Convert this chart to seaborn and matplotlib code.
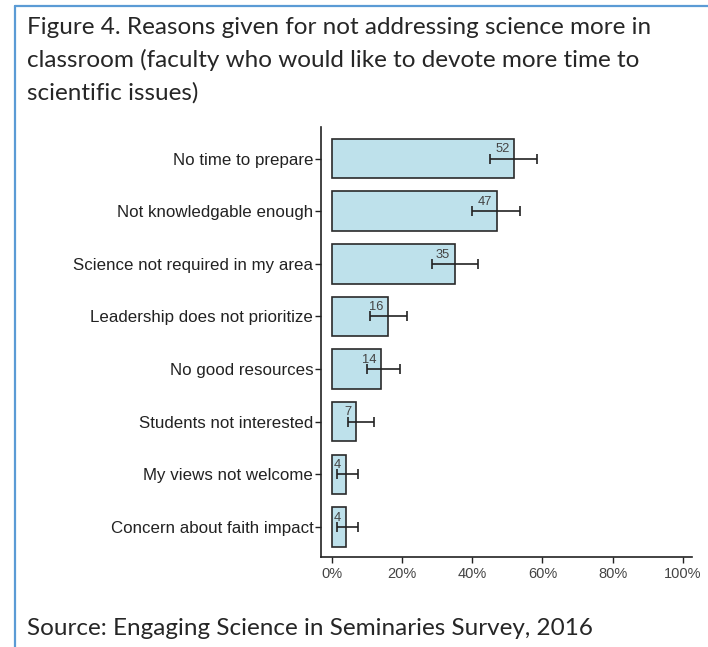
import matplotlib
matplotlib.use("Agg")
import matplotlib.pyplot as plt
import matplotlib.lines as mlines
import seaborn as sns
import pandas as pd
import numpy as np

# Survey results (percent of faculty) with confidence interval bounds
reasons = [
    "No time to prepare",
    "Not knowledgable enough",
    "Science not required in my area",
    "Leadership does not prioritize",
    "No good resources",
    "Students not interested",
    "My views not welcome",
    "Concern about faith impact",
]
percent = [52, 47, 35, 16, 14, 7, 4, 4]
ci_low = [45, 40, 28.5, 11, 10, 4.5, 1.5, 1.5]
ci_high = [58.5, 53.5, 41.5, 21.5, 19.5, 12, 7.5, 7.5]
x_ticks = [0, 20, 40, 60, 80, 100]
x_tick_labels = ["0%", "20%", "40%", "60%", "80%", "100%"]

title_lines = [
    "Figure 4. Reasons given for not addressing science more in",
    "classroom (faculty who would like to devote more time to",
    "scientific issues)",
]
source_text = "Source: Engaging Science in Seminaries Survey, 2016"

df = pd.DataFrame({"reason": reasons, "percent": percent,
                   "lo": ci_low, "hi": ci_high})

sns.set_theme(style="ticks")
plt.rcParams["font.family"] = ["Liberation Sans", "DejaVu Sans"]

W, H = 708, 647
fig = plt.figure(figsize=(W / 100, H / 100), dpi=100)
fig.patch.set_facecolor("white")

ax = fig.add_axes([321 / W, 1 - 557 / H, (692 - 321) / W, (557 - 127) / H])

sns.barplot(data=df, x="percent", y="reason", orient="h", ax=ax,
            color="#BEE1EB", edgecolor="#2a2a2a", linewidth=1.2,
            width=0.75, saturation=1, errorbar=None)

ypos = np.arange(len(reasons))
xerr = np.array([df["percent"] - df["lo"], df["hi"] - df["percent"]])
ax.errorbar(df["percent"], ypos, xerr=xerr, fmt="none", ecolor="#222222",
            elinewidth=1.2, capsize=3.3, capthick=1.2)

for y, v in zip(ypos, percent):
    ax.text(v - 1.3, y - 0.12, f"{v}", ha="right", va="baseline",
            fontsize=9.3, color="#444444")

ax.set_xlim(-3.1, 102.6)
ax.set_ylim(len(reasons) - 0.43, -0.6)
ax.set_xticks(x_ticks)
ax.set_xticklabels(x_tick_labels)
ax.set_xlabel("")
ax.set_ylabel("")
ax.tick_params(axis="both", which="both", direction="out", length=4,
               width=1.0, color="#222222", labelcolor="#222222",
               labelsize=12.2, pad=1.5)
ax.tick_params(axis="x", labelsize=10.5, labelcolor="#444444", pad=3)
for side in ("top", "right"):
    ax.spines[side].set_visible(False)
for side in ("left", "bottom"):
    ax.spines[side].set_linewidth(1.2)
    ax.spines[side].set_color("#222222")
ax.set_facecolor("white")

# Text-box frame on the left and top
fig.add_artist(mlines.Line2D([15 / W, 15 / W], [0, 1 - 6 / H],
                             transform=fig.transFigure, color="#5B9BD5", lw=1.6))
fig.add_artist(mlines.Line2D([15 / W, 1], [1 - 6 / H, 1 - 6 / H],
                             transform=fig.transFigure, color="#5B9BD5", lw=1.6))

for i, line in enumerate(title_lines):
    fig.text(27 / W, 1 - (34 + 33 * i) / H, line, ha="left", va="baseline",
             fontsize=17.5, color="#262626", family=["Lato", "DejaVu Sans"])

fig.text(27 / W, 1 - 635 / H, source_text, ha="left", va="baseline",
         fontsize=17.5, color="#262626", family=["Lato", "DejaVu Sans"])

fig.savefig("out.png", dpi=100)
